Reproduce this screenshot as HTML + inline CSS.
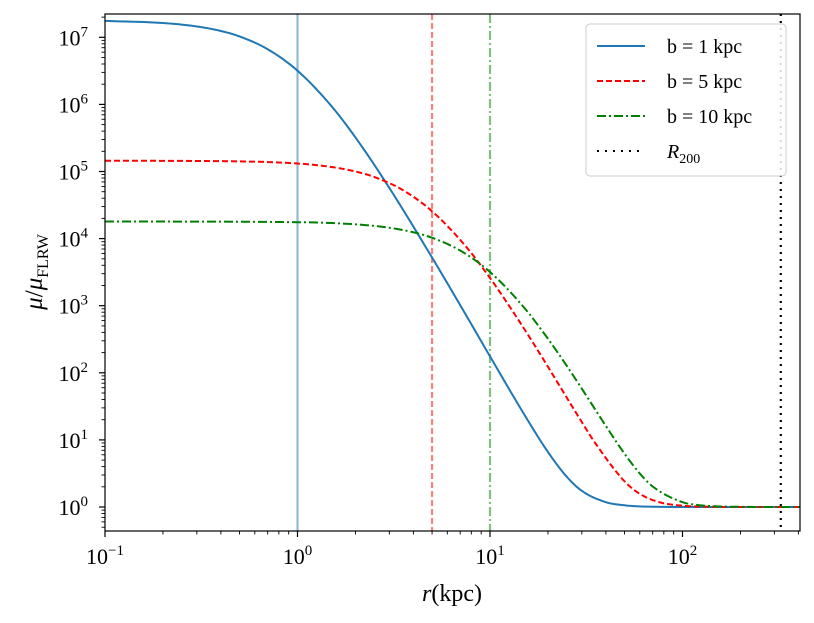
<!DOCTYPE html>
<html><head><meta charset="utf-8"><style>
html,body{margin:0;padding:0;background:#fff;}
svg{display:block;font-family:"Liberation Serif",serif;}
</style></head><body>
<svg id="chart" width="814" height="623" xmlns="http://www.w3.org/2000/svg"></svg>
<script>
// Data
const r1 = [0.1,0.2,0.3,0.4,0.5,0.7,1,1.5,2,3,5,7,10,15,20,25,30,40,50,60,70,100,150,200,410];
const mu1 = [1.756e7,1.632e7,1.451e7,1.242e7,1.03e7,6.64e6,3.18e6,9.45e5,3.22e5,5.69e4,5.22e3,1.02e3,176,24.4,6.6,2.84,1.74,1.18,1.06,1.02,1.01,1.0,1.0,1.0,1.0];
const r5 = [0.1,0.5,1,1.5,2,2.5,3.5,5,7.5,10,15,20,25,30,35,50,60,75,100,150,200,410];
const mu5 = [1.449e5,1.414e5,1.315e5,1.169e5,1.0e5,8.29e4,5.35e4,2.56e4,7.61e3,2.59e3,459,123,43,18.4,9.2,2.41,1.57,1.19,1.045,1.006,1.0,1.0];
const r10 = [0.1,1,2,3,4,5,7,10,15,20,25,30,40,50,60,70,100,120,150,200,300,410];
const mu10 = [1.8e4,1.756e4,1.632e4,1.451e4,1.242e4,1.03e4,6.64e3,3.18e3,945,322,128,57.9,16.1,6.22,3.16,2.02,1.18,1.07,1.023,1.006,1.0,1.0];
const vlines = [1,5,10];
const r200 = 324;
const xTickExp = [-1,0,1,2];
const yTickExp = [0,1,2,3,4,5,6,7];

const L=105,R=800,T=14,B=531;
const xs = r => L + (Math.log10(r)+1)*192.5;
const ys = v => 507 - Math.log10(v)*67.1;
const svg = document.getElementById('chart');
const NS='http://www.w3.org/2000/svg';
function mk(tag, attrs, parent){const e=document.createElementNS(NS,tag);for(const k in attrs)e.setAttribute(k,attrs[k]);(parent||svg).appendChild(e);return e;}

const defs=mk('defs',{});
const cp=mk('clipPath',{id:'clip'},defs);
mk('rect',{x:L,y:T,width:R-L,height:B-T},cp);
const plot=mk('g',{'clip-path':'url(#clip)'});



const vstyles=[['#1f77b4','none'],['#ff0000','6,3'],['#008000','9,3,2,3']];
vlines.forEach((v,i)=>{
  const l=mk('line',{x1:xs(v),x2:xs(v),y1:T,y2:B,stroke:vstyles[i][0],'stroke-opacity':0.5,'stroke-width':2.2,'stroke-dasharray':vstyles[i][1]},plot);
  
  
});
const rl=mk('line',{x1:xs(r200),x2:xs(r200),y1:T,y2:B,stroke:'#000','stroke-width':2.2,'stroke-dasharray':'2,5'},plot);



// monotone cubic interpolation in log-log space
function curve(rs,ms){
  const X=rs.map(Math.log10),Y=ms.map(Math.log10),n=X.length;
  const d=[],m=new Array(n);
  for(let i=0;i<n-1;i++)d.push((Y[i+1]-Y[i])/(X[i+1]-X[i]));
  m[0]=d[0];m[n-1]=d[n-2];
  for(let i=1;i<n-1;i++){m[i]=(d[i-1]*d[i]<=0)?0:(d[i-1]+d[i])/2;}
  for(let i=0;i<n-1;i++){
    if(d[i]===0){m[i]=0;m[i+1]=0;continue;}
    const a=m[i]/d[i],b=m[i+1]/d[i],s=a*a+b*b;
    if(s>9){const t=3/Math.sqrt(s);m[i]=t*a*d[i];m[i+1]=t*b*d[i];}
  }
  let path='';
  for(let i=0;i<n-1;i++){
    const h=X[i+1]-X[i];
    for(let k=0;k<=12;k++){
      if(i>0&&k===0)continue;
      const t=k/12,t2=t*t,t3=t2*t;
      const y=(2*t3-3*t2+1)*Y[i]+(t3-2*t2+t)*h*m[i]+(-2*t3+3*t2)*Y[i+1]+(t3-t2)*h*m[i+1];
      const x=X[i]+t*h;
      const px=L+(x+1)*192.5,py=507-y*67.1;
      path+=(path?'L':'M')+px.toFixed(2)+','+py.toFixed(2);
    }
  }
  return path;
}
const series=[[r1,mu1,'#1f77b4','none','curve-b1'],[r5,mu5,'#ff0000','6,3','curve-b5'],[r10,mu10,'#008000','9,3,2,3','curve-b10']];
series.forEach(s=>{
  const p=mk('path',{d:curve(s[0],s[1]),fill:'none',stroke:s[2],'stroke-width':2,'stroke-dasharray':s[3]},plot);
  
  
});

const fr=mk('rect',{x:L,y:T,width:R-L,height:B-T,fill:'none',stroke:'#000','stroke-width':1.2});



const xg=mk('g',{});


for(let e=-1;e<=2;e++){for(let m=1;m<10;m++){const v=m*Math.pow(10,e);const x=xs(v);if(x<L-0.5||x>R+0.5)continue;
  mk('line',{x1:x,x2:x,y1:B,y2:B+(m===1?6:3.5),stroke:'#000','stroke-width':m===1?1.2:0.9},xg);}}
xTickExp.forEach(e=>{
  const t=mk('text',{x:xs(Math.pow(10,e)),y:564,'font-size':22,'text-anchor':'middle'},xg);
  t.innerHTML='10<tspan dy="-9" font-size="15">'+(e<0?'−'+(-e):e)+'</tspan>';
  
  
});
const yg=mk('g',{});


for(let e=-1;e<=7;e++){for(let m=1;m<10;m++){const v=m*Math.pow(10,e);const y=ys(v);if(y>B+0.5||y<T-0.5)continue;
  mk('line',{x1:L,x2:L-(m===1?6:3.5),y1:y,y2:y,stroke:'#000','stroke-width':m===1?1.2:0.9},yg);}}
yTickExp.forEach(e=>{
  const t=mk('text',{x:88,y:ys(Math.pow(10,e))+8,'font-size':22,'text-anchor':'end'},yg);
  t.innerHTML='10<tspan dy="-9" font-size="15">'+e+'</tspan>';
  
  
});
const xl=mk('text',{x:452,y:601,'font-size':24,'text-anchor':'middle'});
xl.innerHTML='<tspan font-style="italic">r</tspan>(kpc)';


const yl=mk('text',{x:0,y:0,'font-size':25,'text-anchor':'middle',transform:'translate(42,272) rotate(-90)'});
yl.innerHTML='<tspan font-style="italic">μ</tspan>/<tspan font-style="italic">μ</tspan><tspan dy="6" font-size="16">FLRW</tspan>';



const lg=mk('g',{});


mk('rect',{x:586,y:24,width:200,height:152,rx:4,fill:'#fff','fill-opacity':0.85,stroke:'#ccc','stroke-width':1},lg);
const entries=[['#1f77b4','none','b = 1 kpc'],['#ff0000','6,3','b = 5 kpc'],['#008000','9,3,2,3','b = 10 kpc'],['#000','2,6','R200']];
entries.forEach((en,i)=>{
  const y=46+i*35;
  const g=mk('g',{},lg);
  
  
  mk('line',{x1:597,x2:645,y1:y,y2:y,stroke:en[0],'stroke-width':2,'stroke-dasharray':en[1]},g);
  const t=mk('text',{x:667,y:y+7,'font-size':20},g);
  if(i===3)t.innerHTML='<tspan font-style="italic">R</tspan><tspan dy="5" font-size="14">200</tspan>';
  else t.textContent=en[2];
});
</script>
</body></html>
